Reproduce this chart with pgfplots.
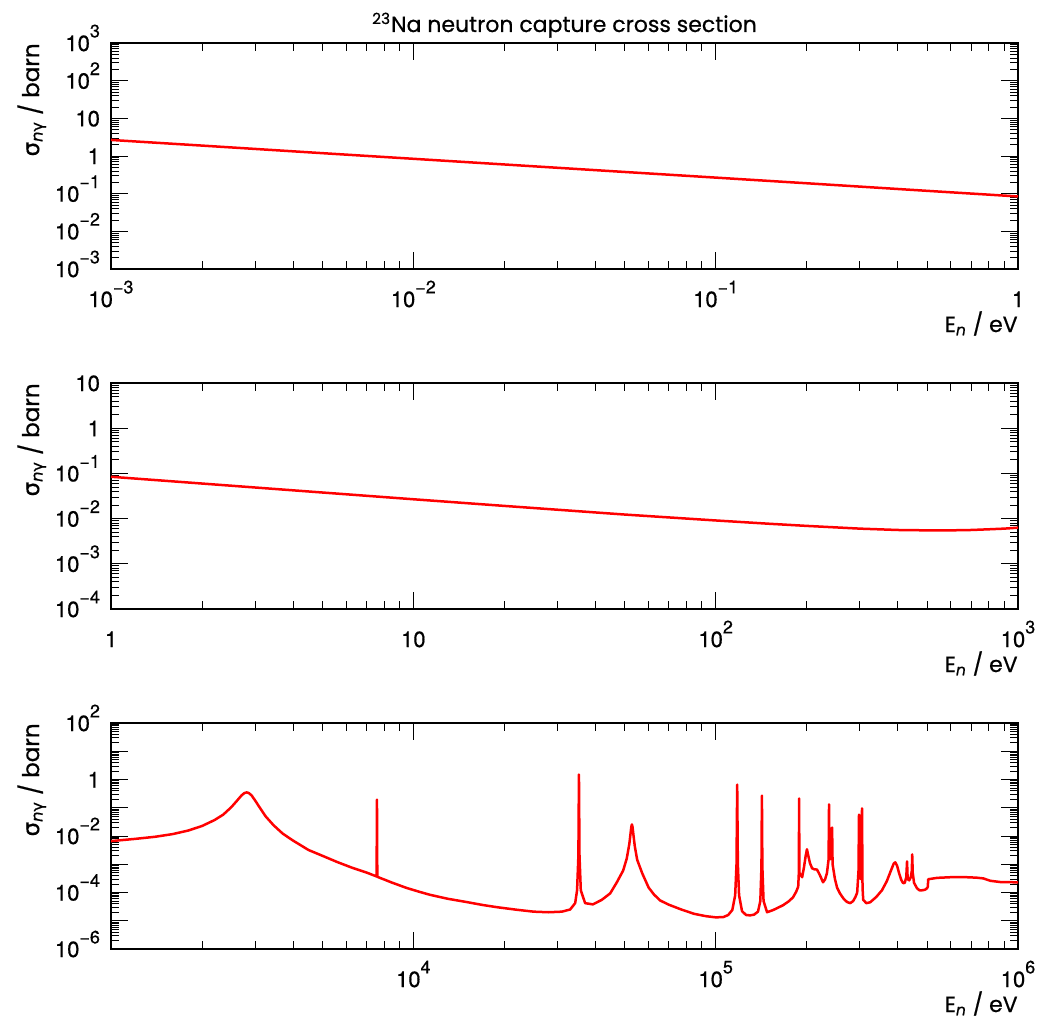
\documentclass[border=0pt]{standalone}
\usepackage{fontspec}
\setmainfont{Poppins}[FakeBold=0.6]
\newfontfamily\heros{TeX Gyre Heros}[FakeBold=0.6]
\newfontfamily\grk{DejaVu Sans}[FakeBold=0.4]
\usepackage{pgfplots}
\pgfplotsset{compat=1.18}

% tick label 10^k in text font
\newcommand\tl[1]{10\raisebox{0.62em}{\fontsize{9}{9}\selectfont #1}}
\newcommand\ylab{{\grk σ}\textsubscript{\itshape n{\grk\upshape γ}} / barn}
\newcommand\xlab{E\textsubscript{\itshape n} / eV}

\pgfplotsset{
  panel/.style={
    scale only axis,
    width=453.5pt, height=113pt,
    axis line style={line width=0.7pt},
    tick style={black, line width=0.45pt},
    major tick length=8.5pt, minor tick length=4pt,
    tick align=inside,
    ticklabel style={font=\heros\fontsize{11}{11}\selectfont},
    xticklabel style={anchor=base, yshift=-19pt},
    yticklabel style={anchor=base east, yshift=-4pt, xshift=-2pt},
  },
  curve/.style={red, line width=1.25pt, line join=round, no marks},
}

\begin{document}
\begin{tikzpicture}
\path[use as bounding box] (-55.5pt,21.5pt) rectangle (471.5pt,-489.5pt);

% ---- 1 meV .. 1 eV
\begin{loglogaxis}[panel, name=ax1, at={(0,0)}, anchor=north west,
  xmin=1e-3, xmax=1, ymin=1e-3, ymax=1e3,
  xtick={1e-3,1e-2,0.1,1},
  xticklabels={\tl{−3},\tl{−2},\tl{−1},1},
  minor xtick={0.002,0.003,0.004,0.005,0.006,0.007,0.008,0.009,
    0.02,0.03,0.04,0.05,0.06,0.07,0.08,0.09,0.2,0.3,0.4,0.5,0.6,0.7,0.8,0.9},
  ytick={1e-3,1e-2,0.1,1,10,100,1000},
  yticklabels={\tl{−3},\tl{−2},\tl{−1},1,10,\tl{2},\tl{3}},
  minor ytick={2e-3,3e-3,4e-3,5e-3,6e-3,7e-3,8e-3,9e-3,
    2e-2,3e-2,4e-2,5e-2,6e-2,7e-2,8e-2,9e-2,
    0.2,0.3,0.4,0.5,0.6,0.7,0.8,0.9,2,3,4,5,6,7,8,9,
    20,30,40,50,60,70,80,90,200,300,400,500,600,700,800,900}]
\addplot[curve] coordinates {
(0.001,2.67) (0.002,1.89) (0.005,1.19) (0.01,0.843) (0.02,0.596)
(0.05,0.377) (0.1,0.267) (0.2,0.189) (0.5,0.119) (1,0.0843)};
\end{loglogaxis}

% ---- 1 eV .. 1 keV
\begin{loglogaxis}[panel, name=ax2, at={(0,-170pt)}, anchor=north west,
  xmin=1, xmax=1000, ymin=1e-4, ymax=10,
  xtick={1,10,100,1000},
  xticklabels={1,10,\tl{2},\tl{3}},
  minor xtick={2,3,4,5,6,7,8,9,20,30,40,50,60,70,80,90,
    200,300,400,500,600,700,800,900},
  ytick={1e-4,1e-3,1e-2,0.1,1,10},
  yticklabels={\tl{−4},\tl{−3},\tl{−2},\tl{−1},1,10},
  minor ytick={2e-4,3e-4,4e-4,5e-4,6e-4,7e-4,8e-4,9e-4,
    2e-3,3e-3,4e-3,5e-3,6e-3,7e-3,8e-3,9e-3,
    2e-2,3e-2,4e-2,5e-2,6e-2,7e-2,8e-2,9e-2,
    0.2,0.3,0.4,0.5,0.6,0.7,0.8,0.9,2,3,4,5,6,7,8,9}]
\addplot[curve] coordinates {
(1,0.0843) (2,0.0597) (5,0.0378) (10,0.0268) (20,0.0191) (50,0.0123)
(100,0.0091) (150,0.0077) (200,0.0069) (300,0.0060) (400,0.0056)
(500,0.0055) (600,0.0055) (700,0.0056) (800,0.0058) (900,0.0060) (1000,0.0063)};
\end{loglogaxis}

% ---- 1 keV .. 1 MeV
\begin{loglogaxis}[panel, name=ax3, at={(0,-340pt)}, anchor=north west,
  xmin=1e3, xmax=1e6, ymin=1e-6, ymax=100,
  xtick={1e4,1e5,1e6},
  xticklabels={\tl{4},\tl{5},\tl{6}},
  minor xtick={2000,3000,4000,5000,6000,7000,8000,9000,
    20000,30000,40000,50000,60000,70000,80000,90000,
    200000,300000,400000,500000,600000,700000,800000,900000},
  ytick={1e-6,1e-5,1e-4,1e-3,1e-2,0.1,1,10,100},
  yticklabels={\tl{−6},,\tl{−4},,\tl{−2},,1,,\tl{2}},
  minor ytick={2e-6,3e-6,4e-6,5e-6,6e-6,7e-6,8e-6,9e-6,
    2e-5,3e-5,4e-5,5e-5,6e-5,7e-5,8e-5,9e-5,
    2e-4,3e-4,4e-4,5e-4,6e-4,7e-4,8e-4,9e-4,
    2e-3,3e-3,4e-3,5e-3,6e-3,7e-3,8e-3,9e-3,
    2e-2,3e-2,4e-2,5e-2,6e-2,7e-2,8e-2,9e-2,
    0.2,0.3,0.4,0.5,0.6,0.7,0.8,0.9,2,3,4,5,6,7,8,9,
    20,30,40,50,60,70,80,90}]
\addplot[curve] coordinates {
(1000,0.0066) (1200,0.0079) (1400,0.0094) (1600,0.0117) (1800,0.0156)
(2000,0.0226) (2200,0.0367) (2350,0.057) (2500,0.105) (2600,0.169)
(2700,0.271) (2760,0.33) (2810,0.35) (2860,0.33) (2920,0.27)
(3000,0.178) (3100,0.104) (3250,0.049) (3450,0.024) (3700,0.0121)
(4000,0.0069) (4500,0.0032) (5000,0.0020) (5600,0.0012) (6300,7.4e-4)
(7000,5.1e-4) (7560,3.7e-4) (7580,0.195) (7600,3.6e-4) (8500,2.24e-4)
(9500,1.45e-4) (10500,1.05e-4) (11350,8.3e-5) (13000,6.0e-5) (15000,4.6e-5)
(17000,3.6e-5) (19000,3.0e-5) (22000,2.45e-5) (25000,2.1e-5) (28000,2.0e-5)
(31000,2.1e-5) (33000,2.5e-5) (34300,4.2e-5) (34800,1.2e-4) (35150,2e-3)
(35300,1.5) (35450,2e-3) (35800,1.2e-4) (37000,4.2e-5) (39260,3.8e-5)
(42000,5.5e-5) (44770,9.3e-5) (47000,2.2e-4) (49430,6.0e-4) (50800,1.6e-3)
(51800,5.2e-3) (52300,0.0125) (52600,0.0213) (52840,0.0257) (53100,0.0207)
(53400,0.012) (54000,4.4e-3) (55000,1.44e-3) (57150,4.8e-4) (60000,1.5e-4)
(62500,8.5e-5) (65460,5.25e-5) (70000,3.7e-5) (77000,2.5e-5) (85000,1.75e-5)
(93000,1.45e-5) (100000,1.32e-5) (106000,1.35e-5) (110000,1.6e-5) (113500,2.4e-5)
(116000,8e-5) (117200,1e-3) (117800,0.66) (118400,1e-3) (119500,8e-5)
(122200,2.2e-5) (126000,1.6e-5) (130000,1.55e-5) (134000,1.65e-5) (138000,2.1e-5)
(140500,5e-5) (141700,8e-4) (142200,0.269) (142700,8e-4) (144000,5e-5)
(147900,2.0e-5) (155000,2.4e-5) (167100,3.55e-5) (175000,5e-5) (180300,6.8e-5)
(184500,1.05e-4) (187500,1.6e-4) (188400,5e-4) (188800,0.214) (189200,5e-4)
(193200,3.47e-4) (196000,8e-4) (198500,2e-3) (200400,3.39e-3) (202500,2e-3)
(205000,1.1e-3) (208400,7.2e-4) (212000,6.6e-4) (216300,6.5e-4) (221000,4.2e-4)
(226500,2.3e-4) (230000,2.9e-4) (233300,4.8e-4) (236300,1.5e-3) (237100,0.132)
(238000,1.5e-3) (241800,1.6e-3) (242700,0.020) (243600,1.0e-3) (248000,3e-4)
(252000,1.5e-4) (257600,9.3e-5) (265000,6e-5) (272000,4.6e-5) (278600,4.2e-5)
(285000,5e-5) (290000,7e-5) (293800,1e-4) (296800,6e-4) (297900,0.0575)
(299000,6e-4) (301500,3e-4) (303700,6e-4) (304800,0.0955) (306000,1.5e-4)
(307600,5.5e-5) (315000,4.2e-5) (324300,4.5e-5) (340000,7e-5) (354800,1.2e-4)
(368000,2.5e-4) (380000,6e-4) (388000,1.05e-3) (392600,1.17e-3) (398000,9e-4)
(405000,4.5e-4) (411000,2.8e-4) (416900,2.14e-4) (422000,2.2e-4) (427000,3.5e-4)
(429500,1.26e-3) (431500,3e-4) (436500,2.69e-4) (442000,3.5e-4) (445500,6e-4)
(446700,2.24e-3) (448500,5e-4) (453000,2.2e-4) (463400,1.41e-4) (472000,1.2e-4)
(482000,1.2e-4) (492000,1.25e-4) (500000,1.41e-4) (503000,1.6e-4) (504700,2.95e-4)
(540000,3.3e-4) (595700,3.47e-4) (679200,3.47e-4) (730000,3.35e-4) (767400,3.16e-4)
(810000,2.6e-4) (873000,2.35e-4) (1000000,2.29e-4)};
\end{loglogaxis}

% labels
\node[anchor=base, font=\fontsize{11}{11}\selectfont]
  at ([yshift=5.5pt]ax1.north) {\textsuperscript{23}Na neutron capture cross section};
\foreach \a in {ax1,ax2,ax3}{
  \node[rotate=90, anchor=north east, inner sep=0pt, font=\fontsize{11.5}{11.5}\selectfont]
    at ([xshift=-47pt]\a.north west) {\ylab};
  \node[anchor=base east, inner sep=0pt, font=\fontsize{11}{11}\selectfont]
    at ([yshift=-31.5pt]\a.south east) {\xlab};
}
\end{tikzpicture}
\end{document}
